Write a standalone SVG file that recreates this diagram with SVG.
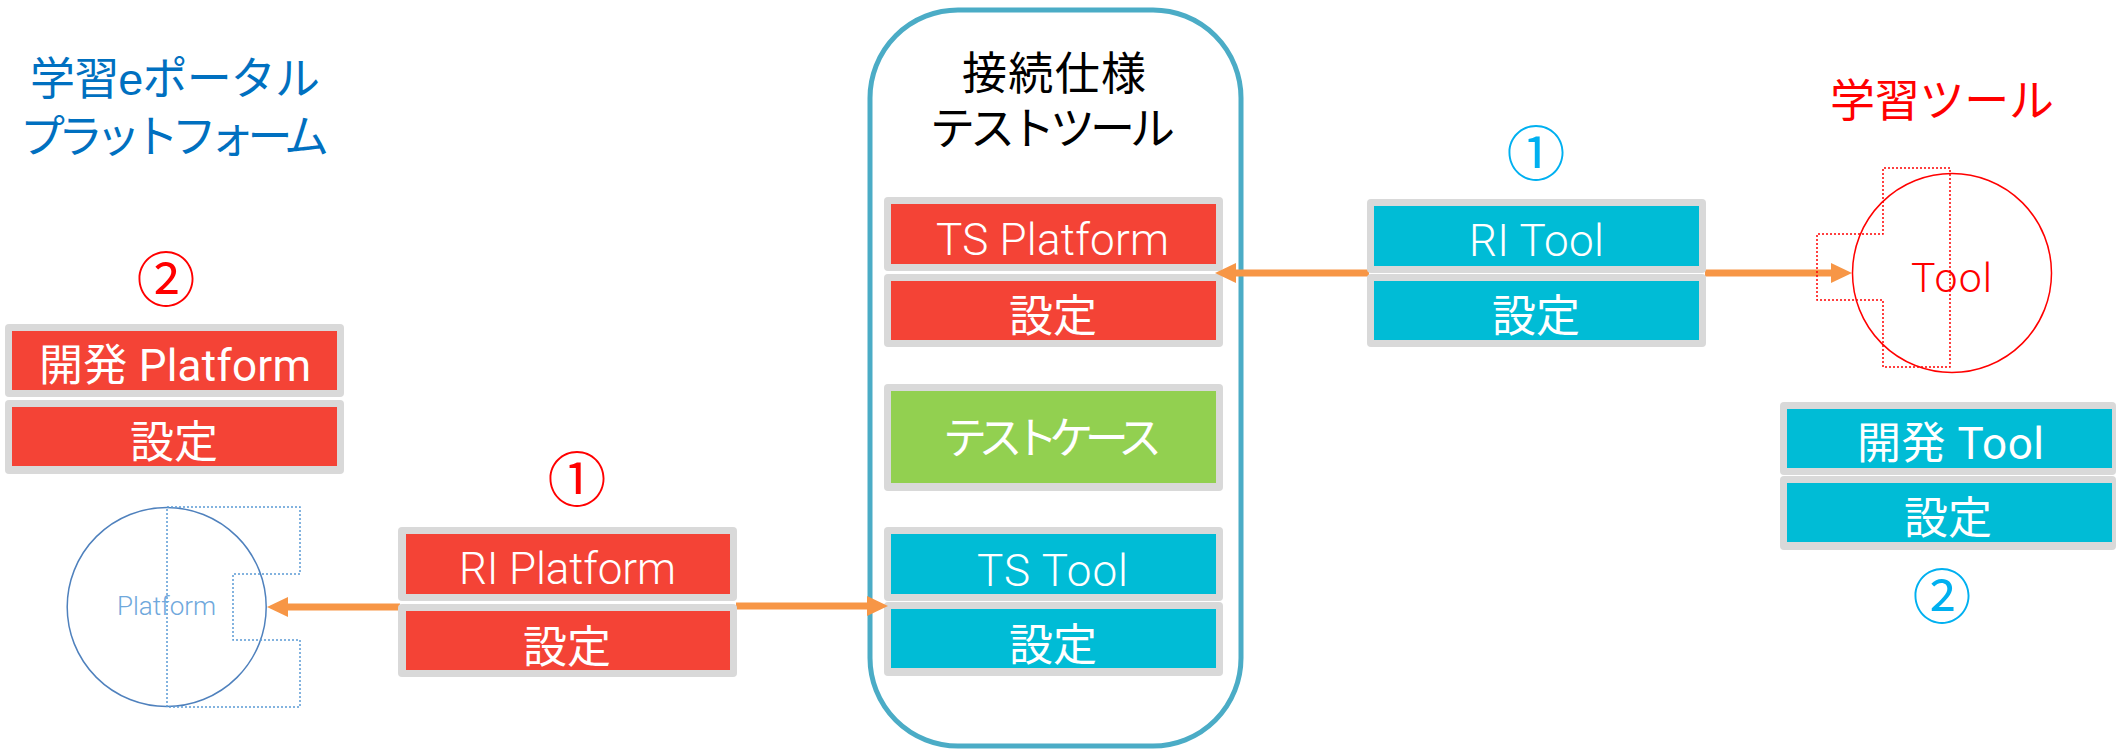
<svg xmlns="http://www.w3.org/2000/svg" width="2116" height="749" viewBox="0 0 2116 749">
<style>
text{font-family:"Noto Sans CJK JP","Noto Sans",sans-serif}
.o{fill:#d9d9d9}
.r{fill:#f44336}
.c{fill:#00bcd6}
.g{fill:#92d050}
.w{fill:#fff;font-size:44px;font-family:Roboto,"Noto Sans CJK JP",sans-serif}
.x{font-weight:300}
.a{fill:none;stroke:#f79646;stroke-width:7}
.d{fill:none;stroke-width:1.5;stroke-dasharray:2 2}
.n{font-size:59px}
.t{font-size:45px;font-family:"Liberation Sans","Noto Sans CJK JP",sans-serif}
.l{font-family:Roboto,"Noto Sans CJK JP",sans-serif}
</style>
<defs>
<marker id="h" markerUnits="userSpaceOnUse" markerWidth="21" markerHeight="20" refX="0" refY="10" orient="auto"><path d="M0 0L21 10L0 20Z" fill="#f79646"/></marker>
</defs>
<rect width="2116" height="749" fill="#fff"/>
<g id="frame">
<rect x="870" y="10" width="371" height="736" rx="88" fill="#fff" stroke="#4bacc6" stroke-width="5"/>
<text class="t" x="962" y="90" textLength="184" fill="#000">接続仕様</text>
<text class="t" x="930" y="145" textLength="245" fill="#000">テストツール</text>
</g>
<g id="ts-platform">
<rect class="o" x="884" y="197" width="339" height="74" rx="4"/><rect class="r" x="891" y="204" width="325" height="60"/>
<text class="w x" x="936" y="255" textLength="233">TS Platform</text>
</g>
<g id="ts-platform-settings">
<rect class="o" x="884" y="274" width="339" height="73" rx="4"/><rect class="r" x="891" y="281" width="325" height="59"/>
<text class="w" x="1009" y="332" textLength="88">設定</text>
</g>
<g id="test-case">
<rect class="o" x="884" y="384" width="339" height="107" rx="4"/><rect class="g" x="891" y="391" width="325" height="92"/>
<text class="w" x="943" y="454" textLength="219">テストケース</text>
</g>
<g id="ts-tool">
<rect class="o" x="884" y="527" width="339" height="74" rx="4"/><rect class="c" x="891" y="534" width="325" height="60"/>
<text class="w x" x="977" y="586" textLength="151">TS Tool</text>
</g>
<g id="ts-tool-settings">
<rect class="o" x="884" y="602" width="339" height="74" rx="4"/><rect class="c" x="891" y="609" width="325" height="59"/>
<text class="w" x="1009" y="661" textLength="88">設定</text>
</g>
<g id="connectors">
<line class="a" x1="400" y1="607" x2="288" y2="607" marker-end="url(#h)"/>
<line class="a" x1="736" y1="606" x2="867" y2="606" marker-end="url(#h)"/>
<line class="a" x1="1369" y1="273" x2="1236" y2="273" marker-end="url(#h)"/>
<line class="a" x1="1705" y1="273" x2="1831" y2="273" marker-end="url(#h)"/>
</g>
<g id="portal-title">
<text class="t" x="30" y="95" textLength="290" fill="#0070c0">学習eポータル</text>
<text class="t" x="20" y="153" textLength="309" fill="#0070c0">プラットフォーム</text>
</g>
<g id="num-2-red"><text class="n" x="166" y="301" text-anchor="middle" fill="#f00">②</text></g>
<g id="dev-platform">
<rect class="o" x="5" y="324" width="339" height="73" rx="4"/><rect class="r" x="12" y="331" width="325" height="59"/>
<text class="w" x="39" y="381" textLength="272">開発 Platform</text>
</g>
<g id="dev-platform-settings">
<rect class="o" x="5" y="400" width="339" height="74" rx="4"/><rect class="r" x="12" y="407" width="325" height="59"/>
<text class="w" x="130" y="458" textLength="88">設定</text>
</g>
<g id="platform">
<circle cx="166.7" cy="607" r="99.5" fill="none" stroke="#4f81bd" stroke-width="1.5"/>
<path class="d" stroke="#5b9bd5" d="M167 507H300V574H233V640H300V707H167Z"/>
<text class="l" x="117" y="615" font-size="26" font-weight="300" textLength="99" fill="#6fa8dc">Platform</text>
</g>
<g id="num-1-red"><text class="n" x="577" y="501" text-anchor="middle" fill="#f00">①</text></g>
<g id="ri-platform">
<rect class="o" x="398" y="527" width="339" height="74" rx="4"/><rect class="r" x="406" y="534" width="324" height="60"/>
<text class="w x" x="459" y="584" textLength="217">RI Platform</text>
</g>
<g id="ri-platform-settings">
<rect class="o" x="398" y="604" width="339" height="73" rx="4"/><rect class="r" x="406" y="611" width="324" height="59"/>
<text class="w" x="523" y="663" textLength="88">設定</text>
</g>
<g id="num-1-blue"><text class="n" x="1536" y="175" text-anchor="middle" fill="#00b0f0">①</text></g>
<g id="ri-tool">
<rect class="o" x="1367" y="199" width="339" height="74" rx="4"/><rect class="c" x="1374" y="206" width="325" height="60"/>
<text class="w x" x="1469" y="256" textLength="135">RI Tool</text>
</g>
<g id="ri-tool-settings">
<rect class="o" x="1367" y="274" width="339" height="73" rx="4"/><rect class="c" x="1374" y="281" width="325" height="59"/>
<text class="w" x="1492" y="332" textLength="88">設定</text>
</g>
<g id="tool-title"><text class="t" x="1830" y="117" textLength="224" fill="#f00">学習ツール</text></g>
<g id="tool">
<circle cx="1952" cy="273" r="99.5" fill="none" stroke="#f00" stroke-width="1.5"/>
<path class="d" stroke="#f00" d="M1950 168H1883V234H1817V300H1883V367H1950Z"/>
<text class="l x" x="1911" y="292" font-size="41" textLength="81" fill="#f00">Tool</text>
</g>
<g id="dev-tool">
<rect class="o" x="1780" y="402" width="336" height="73" rx="4"/><rect class="c" x="1787" y="409" width="325" height="59"/>
<text class="w" x="1857" y="459" textLength="187">開発 Tool</text>
</g>
<g id="dev-tool-settings">
<rect class="o" x="1780" y="476" width="336" height="74" rx="4"/><rect class="c" x="1787" y="483" width="325" height="59"/>
<text class="w" x="1904" y="534" textLength="88">設定</text>
</g>
<g id="num-2-blue"><text class="n" x="1942" y="618" text-anchor="middle" fill="#00b0f0">②</text></g>
</svg>
